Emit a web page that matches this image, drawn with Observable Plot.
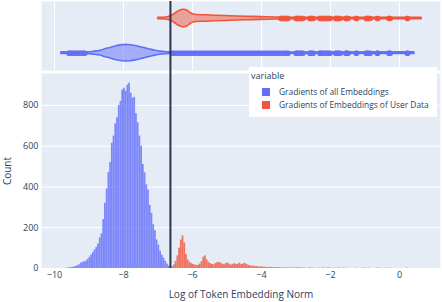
<!DOCTYPE html>
<html><head><meta charset="utf-8">
<script src="https://cdn.jsdelivr.net/npm/d3@7"></script>
<script src="https://cdn.jsdelivr.net/npm/@observablehq/plot@0.6"></script>
<style>
body{margin:0;background:#fff;}
#wrap{position:relative;width:442px;height:302px;font-family:"Open Sans",sans-serif;color:#2a3f5f;overflow:hidden;}
#wrap svg{display:block;}
#legend{position:absolute;left:249px;top:67px;width:188px;height:50px;background:#fff;}
#legend .title{position:absolute;left:2px;top:3px;font-size:9px;line-height:12px;}
#legend .sw{position:absolute;left:13px;width:8px;height:8px;}
#legend .lab{position:absolute;left:30px;font-size:8.4px;line-height:10px;white-space:nowrap;}
</style></head>
<body><div id="wrap"><div id="topPanel"></div><div id="bottomPanel"></div>
<div id="legend"></div></div>
<script>
// ---- data ----
const xTicks = [-10, -8, -6, -4, -2, 0];
const yTicks = [0, 200, 400, 600, 800];
const threshold = -6.64;
const seriesNames = ["Gradients of all Embeddings", "Gradients of Embeddings of User Data"];
const seriesColors = ["#636efa", "#ef553b"];
const binWidth = 0.05;
const blueStart = -9.65;
const blueCounts = [2,3,4,5,8,10,14,18,26,30,33,36,45,55,66,78,92,104,120,150,170,240,320,390,470,520,615,650,710,740,800,820,875,885,870,900,910,860,835,840,760,715,650,600,510,470,410,385,310,270,215,185,140,115,85,65,50,35,22,12];
const redStart = -6.65;
const redCounts = [4,8,18,35,62,100,140,160,125,70,42,30,24,20,17,15,16,22,34,55,62,42,30,24,20,18,24,28,30,26,22,18,24,27,21,17,20,24,19,21,26,19,22,25,20,16,13,11,12,9,10,8,7,8,6,6,5,5,6,4,4,5,3,4,3,3,2,3,2,2,3,2,2];
const redTailCenters = [-2.975,-2.925,-2.875,-2.825,-2.775,-2.725,-2.625,-2.575,-2.525,-2.475,-2.325,-2.225,-2.175,-2.075,-2.025,-1.975,-1.875,-1.775,-1.725,-1.625,-1.525,-1.275,-1.025,-0.975,-0.875,-0.625,-0.575,-0.375,-0.275,0.225];
const redTailCounts = [3,4,3,2,3,2,2,3,2,2,2,2,3,3,2,2,2,3,2,2,2,2,2,2,2,2,2,2,2,2];
// marginal violins: x positions and half-widths
const blueViolinX = [-9.80,-9.04,-8.90,-8.78,-8.67,-8.52,-8.38,-8.23,-8.09,-7.94,-7.80,-7.65,-7.51,-7.36,-7.22,-7.07,-6.93,-6.78,-6.64,0.43];
const blueViolinW = [0.8,0.8,1.2,1.8,2.3,4.0,5.2,6.8,7.8,8.3,8.0,7.2,6.0,4.8,3.6,2.4,1.6,1.1,0.8,0.8];
const redViolinX = [-6.99,-6.78,-6.64,-6.49,-6.38,-6.26,-6.14,-6.06,-5.97,-5.86,-5.62,-5.33,-4.90,-4.46,-4.03,-3.59,-3.16,0.64];
const redViolinW = [0.8,1.0,2.0,5.0,7.5,8.8,7.8,5.5,4.0,3.5,3.2,2.8,2.3,1.8,1.4,1.0,0.8,0.8];
// outlier point clusters [from, to]
const blueOutliers = [[-9.58,-9.12],[-6.57,-3.23],[-3.00,-2.80],[-2.60,-2.50],[-2.31,-2.01],[-1.85,-1.72],[-1.56,-1.49],[-1.25,-1.25],[-0.97,-0.85],[-0.64,-0.64],[-0.31,-0.27],[0.23,0.23]];
const redOutliers = [[-3.44,-3.23],[-3.00,-2.80],[-2.60,-2.50],[-2.31,-2.01],[-1.85,-1.72],[-1.56,-1.49],[-1.25,-1.25],[-0.97,-0.85],[-0.64,-0.64],[-0.31,-0.27],[0.23,0.23]];

// ---- layout constants ----
const xDomain = [-10.377, 1.188];
const laneCenter = {blue: 17.3, red: 52};
const gridColor = "#ffffff", bg = "#e5ecf6", lineColor = "#2a3650";
const style = {fontFamily: "Open Sans, sans-serif", fontSize: "9px", color: "#2a3f5f", background: "transparent", overflow: "visible"};

const violinRows = (xs, ws) => xs.map((x, i) => ({x, w: ws[i]}));
const segRows = segs => segs.map(([a, b]) => ({a, b}));
const endRows = segs => segs.flatMap(([a, b]) => [a, b]);

function violinMarks(xs, ws, segs, c, color) {
  return [
    Plot.areaY(violinRows(xs, ws), {x: "x", y1: d => c - d.w, y2: d => c + d.w, fill: color, fillOpacity: 0.5, stroke: color, strokeWidth: 1.6, curve: "catmull-rom"}),
    Plot.ruleY(segRows(segs), {x1: "a", x2: "b", y: () => c, stroke: color, strokeWidth: 5.6, strokeOpacity: 0.95}),
    Plot.dot(endRows(segs), {x: d => d, y: () => c, r: 2.8, fill: color, fillOpacity: 0.95, stroke: "none"})
  ];
}

const topChart = Plot.plot({
  width: 442, height: 72, marginLeft: 41, marginRight: 2, marginTop: 1, marginBottom: 2,
  style,
  x: {domain: xDomain, axis: null},
  y: {domain: [0, 69], axis: null},
  marks: [
    Plot.frame({fill: bg, stroke: "none"}),
    Plot.ruleX(xTicks, {stroke: gridColor, strokeWidth: 1}),
    ...violinMarks(redViolinX, redViolinW, redOutliers, laneCenter.red, seriesColors[1]),
    ...violinMarks(blueViolinX, blueViolinW, blueOutliers, laneCenter.blue, seriesColors[0]),
    Plot.ruleX([threshold], {stroke: lineColor, strokeWidth: 2, insetBottom: -2})
  ]
});
document.getElementById("topPanel").appendChild(topChart);

const blueRows = blueCounts.map((c, i) => ({x1: blueStart + i * binWidth, x2: blueStart + (i + 1) * binWidth, count: c}));
const redRows = redCounts.map((c, i) => ({x1: redStart + i * binWidth, x2: redStart + (i + 1) * binWidth, count: c}));
const tailRows = redTailCenters.map((x, i) => ({x1: x - binWidth / 2, x2: x + binWidth / 2, count: redTailCounts[i]}));

const bottomChart = Plot.plot({
  width: 442, height: 230, marginLeft: 41, marginRight: 2, marginTop: 1, marginBottom: 34,
  style,
  x: {domain: xDomain, ticks: xTicks, tickSize: 0, tickPadding: 3, label: "Log of Token Embedding Norm", labelAnchor: "center", labelOffset: 29},
  y: {domain: [0, 957], ticks: yTicks, tickSize: 0, tickPadding: 3, label: "Count", labelAnchor: "center", labelOffset: 38},
  marks: [
    Plot.frame({fill: bg, stroke: "none"}),
    Plot.ruleY(yTicks, {stroke: gridColor, strokeWidth: 1}),
    Plot.rectY(blueRows, {x1: "x1", x2: "x2", y: "count", fill: seriesColors[0], fillOpacity: 0.8}),
    Plot.rectY(redRows, {x1: "x1", x2: "x2", y: "count", fill: seriesColors[1], fillOpacity: 0.8}),
    Plot.rectY(tailRows, {x1: "x1", x2: "x2", y: "count", fill: "#b06a9a", fillOpacity: 0.7}),
    Plot.ruleX([threshold], {stroke: lineColor, strokeWidth: 2, insetTop: -1})
  ]
});
document.getElementById("bottomPanel").appendChild(bottomChart);
bottomChart.querySelectorAll("text").forEach(t => {
  const s = t.textContent;
  if (/[→↑←↓]/.test(s)) {
    t.textContent = s.replace(/\s*[→↑←↓]\s*/g, "").trim();
    t.style.fontSize = "10px";
  }
});

// legend
const lg = document.getElementById("legend");
lg.innerHTML = '<div class="title">variable</div>' + seriesNames.map((n, i) =>
  `<div class="sw" style="top:${21 + i * 13}px;background:${seriesColors[i]}"></div><div class="lab" style="top:${20 + i * 13}px">${n}</div>`).join("");
</script></body></html>
